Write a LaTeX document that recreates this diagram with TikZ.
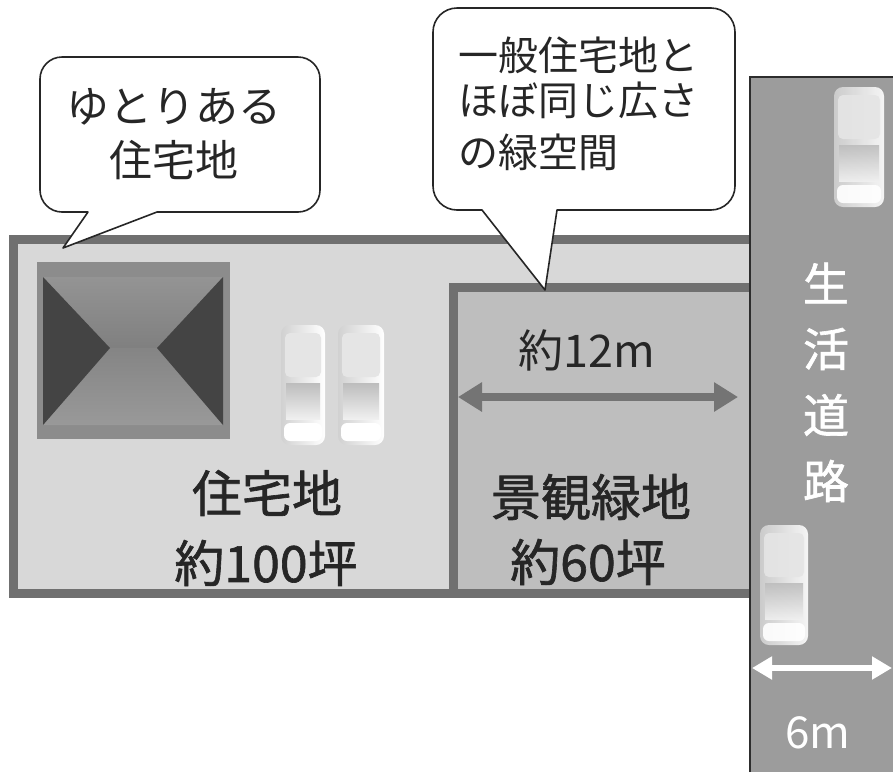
\documentclass[tikz,border=0pt]{standalone}
\usepackage{fontspec}
\setmainfont{Noto Sans CJK JP}
\newfontfamily\jpheavy{Noto Sans CJK JP}[FakeBold=1.3]
\usetikzlibrary{arrows.meta}
\definecolor{lotborder}{RGB}{112,112,112}
\definecolor{lotfill}{RGB}{216,216,216}
\definecolor{greenfill}{RGB}{190,190,190}
\definecolor{roadfill}{RGB}{156,156,156}
\definecolor{roadedge}{RGB}{45,45,45}
\definecolor{housemid}{RGB}{140,140,140}
\definecolor{housedark}{RGB}{68,68,68}
\definecolor{arrowgray}{RGB}{116,116,116}
\definecolor{labelink}{RGB}{38,38,38}
\tikzset{
  callout/.style={draw=black!85, line width=1.6pt, fill=white, line join=round},
  calltext/.style={text=black!85, font=\fontsize{40}{48}\selectfont, inner sep=0pt},
  lottext/.style={text=labelink, font=\jpheavy\fontsize{50}{58}\selectfont, inner sep=0pt},
  roadtext/.style={text=white, font=\jpheavy\fontsize{46}{54}\selectfont, inner sep=0pt},
  pics/car/.style={code={
    \shade[left color=black!18, right color=white, rounded corners=9pt]
      (-#1,-60) rectangle (#1,60);
    \fill[black!10, rounded corners=5pt] (-#1+4,-52) rectangle (#1-4,-8);
    \shade[top color=black!26, bottom color=black!6] (-#1+5,-2) rectangle (#1-5,34);
    \fill[white, rounded corners=6pt] (-#1+3,38) rectangle (#1-3,56);
  }},
}
\begin{document}
\begin{tikzpicture}[x=1pt,y=-1pt]
\useasboundingbox (0,0) rectangle (893,772);

% residential lot and the landscape green strip inside it
\draw[lotborder, line width=9pt, fill=lotfill] (13,239) rectangle (762,593);
\draw[lotborder, line width=9pt, fill=greenfill] (453,287) rectangle (762,593);

% the road along the right edge
\fill[roadfill] (750,77) rectangle (893,772);
\draw[roadedge, line width=1.6pt] (750,772) -- (750,77) -- (893,77);

% house, hip roof seen from above
\fill[black!45] (37,262) rectangle (230,439);
\fill[housemid] (42,267) rectangle (225,434);
\shade[top color=black!42, bottom color=black!50] (43,277) -- (223,277) -- (157,348) -- (110,348) -- cycle;
\shade[top color=black!48, bottom color=black!40] (43,425) -- (223,425) -- (157,348) -- (110,348) -- cycle;
\fill[housedark] (43,277) -- (110,348) -- (43,425) -- cycle;
\fill[housedark] (223,277) -- (157,348) -- (223,425) -- cycle;

% parked cars
\pic at (303,385) {car=22};
\pic at (361,385) {car=23};
\pic[opacity=0.9] at (859,147) {car=25};
\pic[opacity=0.9] at (784,585) {car=24};

% width of the green strip
\coordinate (gl) at (458,397);
\coordinate (gr) at (738,397);
\draw[arrowgray, line width=8pt, {Triangle[width=28pt,length=24pt]}-{Triangle[width=28pt,length=24pt]}] (gl) -- (gr);
\node[lottext, font=\fontsize{45}{52}\selectfont] (w12) at (587,350) {約12m};

% width of the road
\coordinate (rl) at (752,668);
\coordinate (rr) at (892,668);
\draw[white, line width=6pt, {Triangle[width=22pt,length=20pt]}-{Triangle[width=22pt,length=20pt]}] (rl) -- (rr);
\node[roadtext, font=\fontsize{44}{52}\selectfont] (w6) at (818,733) {6m};

% lot labels
\node[lottext] (res1) at (267,493) {住宅地};
\node[lottext] (res2) at (266,563) {約100坪};
\node[lottext] (grn1) at (591,497) {景観緑地};
\node[lottext] (grn2) at (588,562) {約60坪};

% road label, written vertically
\node[roadtext] (rd1) at (826,283) {生};
\node[roadtext] (rd2) at (826,349) {活};
\node[roadtext] (rd3) at (826,415) {道};
\node[roadtext] (rd4) at (826,481) {路};

% speech bubble over the residential lot
\draw[callout] (157,212) [rounded corners=22pt] -- (320,212) -- (320,57) -- (40,57) -- (40,212) [sharp corners] -- (88,212) -- (63,248) -- cycle;
\node[calltext, font=\fontsize{43}{50}\selectfont] (b1a) at (174,107) {ゆとりある};
\node[calltext, font=\fontsize{43}{50}\selectfont] (b1b) at (174,160) {住宅地};

% speech bubble over the green strip
\draw[callout] (557,210) [rounded corners=24pt] -- (735,210) -- (735,8) -- (433,8) -- (433,210) [sharp corners] -- (482,210) -- (545,290) -- cycle;
\node[calltext, anchor=west] (b2a) at (458,55) {一般住宅地と};
\node[calltext, anchor=west] (b2b) at (458,100) {ほぼ同じ広さ};
\node[calltext, anchor=west] (b2c) at (458,152) {の緑空間};
\end{tikzpicture}
\end{document}
